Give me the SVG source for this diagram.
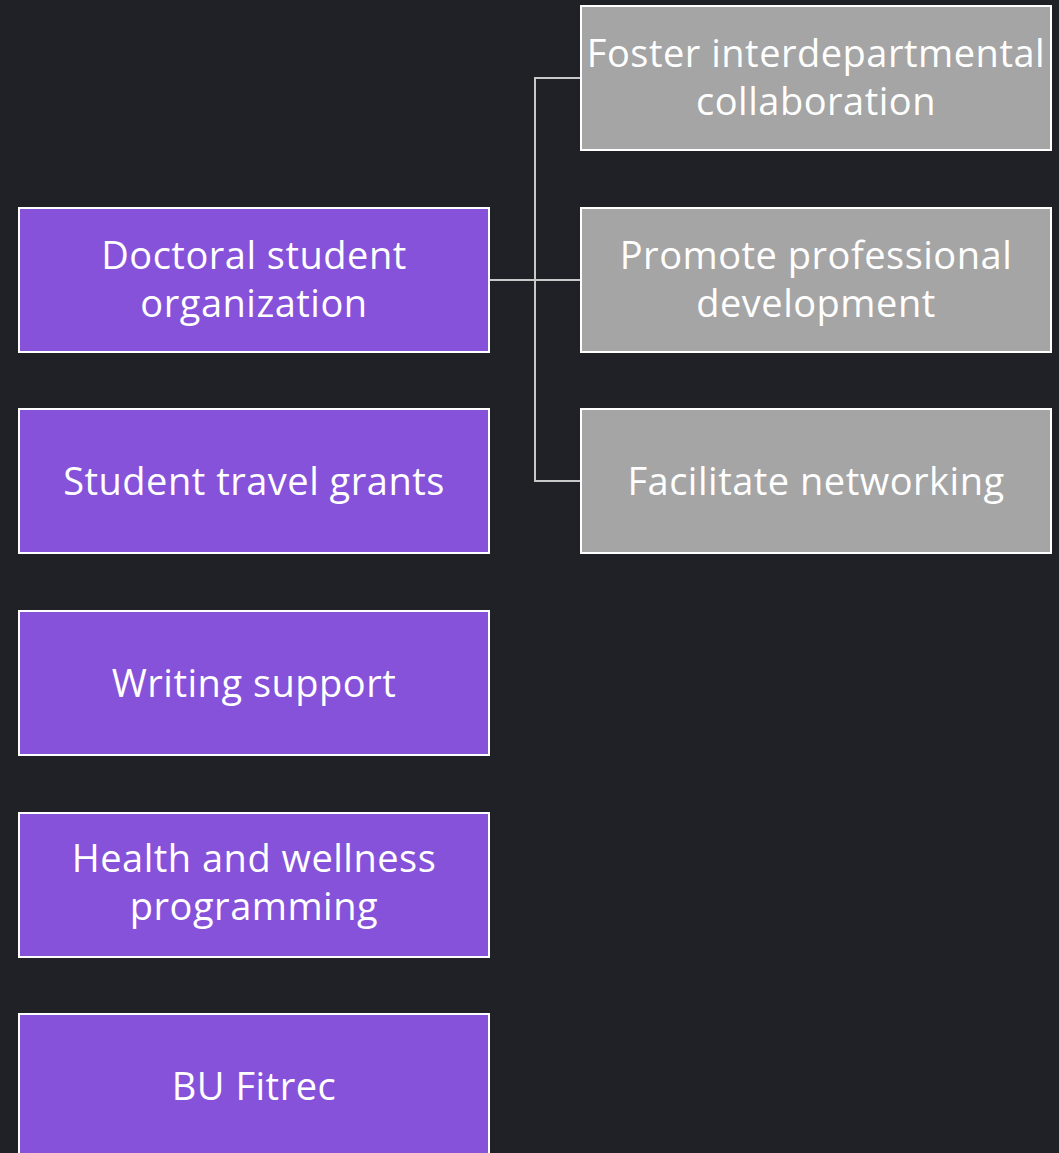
<svg xmlns="http://www.w3.org/2000/svg" width="1059" height="1153" viewBox="0 0 1059 1153">
<style>
.bg{fill:#202126}
.p{fill:#8652DA;stroke:#ffffff;stroke-width:2}
.g{fill:#A5A5A5;stroke:#ffffff;stroke-width:2}
.t{font-family:"Open Sans",Lato,sans-serif;font-size:38px;letter-spacing:0.5px;fill:#ffffff;text-anchor:middle;font-variant-ligatures:none}
.c{fill:none;stroke:#C8C8C8;stroke-width:2}
</style>
<rect class="bg" x="0" y="0" width="1059" height="1153"/>
<g id="connectors">
<path class="c" d="M489,280 H581"/>
<path class="c" d="M535,280 V78 H581"/>
<path class="c" d="M535,280 V481 H581"/>
</g>
<g id="n1"><rect class="p" x="19" y="208" width="470" height="144"/><text class="t" x="254" y="269">Doctoral student</text><text class="t" x="254" y="317">organization</text></g>
<g id="n2"><rect class="p" x="19" y="409" width="470" height="144"/><text class="t" x="254" y="495">Student travel grants</text></g>
<g id="n3"><rect class="p" x="19" y="611" width="470" height="144"/><text class="t" x="254" y="697">Writing support</text></g>
<g id="n4"><rect class="p" x="19" y="813" width="470" height="144"/><text class="t" x="254" y="872">Health and wellness</text><text class="t" x="254" y="920">programming</text></g>
<g id="n5"><rect class="p" x="19" y="1014" width="470" height="144"/><text class="t" x="254" y="1100">BU Fitrec</text></g>
<g id="n6"><rect class="g" x="581" y="6" width="470" height="144"/><text class="t" x="816" y="67">Foster interdepartmental</text><text class="t" x="816" y="115">collaboration</text></g>
<g id="n7"><rect class="g" x="581" y="208" width="470" height="144"/><text class="t" x="816" y="269">Promote professional</text><text class="t" x="816" y="317">development</text></g>
<g id="n8"><rect class="g" x="581" y="409" width="470" height="144"/><text class="t" x="816" y="495">Facilitate networking</text></g>
</svg>
